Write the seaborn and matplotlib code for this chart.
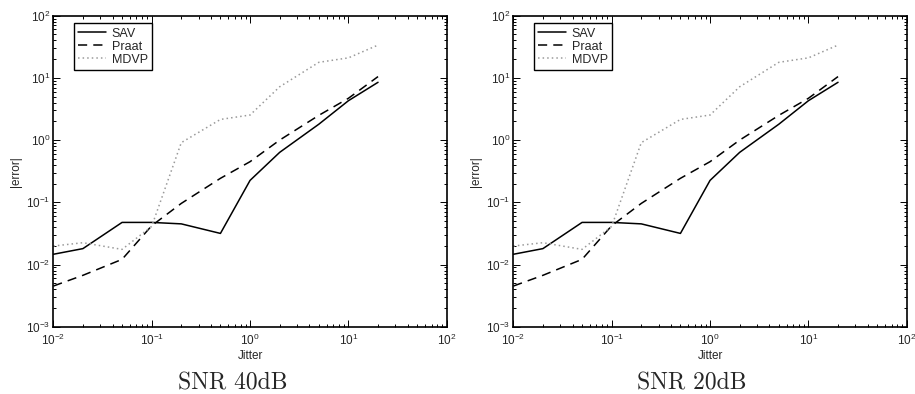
import numpy as np
import pandas as pd
import matplotlib
matplotlib.use("Agg")
import matplotlib.pyplot as plt
import seaborn as sns
from matplotlib.ticker import LogLocator, NullFormatter

jitter = [0.01, 0.02, 0.05, 0.1, 0.2, 0.5, 1, 2, 5, 10, 20]
sav = [0.0146, 0.018, 0.0475, 0.0475, 0.045, 0.0316, 0.225, 0.635, 1.8, 4.3, 8.5]
praat = [0.0045, 0.0067, 0.0121, 0.042, 0.096, 0.243, 0.45, 1.0, 2.5, 4.7, 10.5]
mdvp = [0.0198, 0.0224, 0.0175, 0.041, 0.91, 2.15, 2.53, 7.2, 17.8, 21.0, 33.7]
series_names = ["SAV", "Praat", "MDVP"]
captions = ["SNR 40dB", "SNR 20dB"]

sns.set_style("ticks")
plt.rcParams["font.family"] = ["Liberation Sans", "DejaVu Sans"]
plt.rcParams["mathtext.fontset"] = "custom"
plt.rcParams["mathtext.rm"] = "Liberation Sans"
plt.rcParams["mathtext.it"] = "Liberation Sans"
plt.rcParams["mathtext.default"] = "regular"

fig = plt.figure(figsize=(9.15, 3.94), dpi=100)
W, H = 915, 394
lefts = [53.3, 513.3]
caption_x = [233, 692]
styles = [dict(color="black", linestyle="-"),
          dict(color="black", linestyle=(0, (6, 4))),
          dict(color="#9a9a9a", linestyle=(0, (1, 2)))]
values = [sav, praat, mdvp]

for i in range(2):
    ax = fig.add_axes([lefts[i] / W, (H - 326.7) / H, 393.5 / W, 311 / H])
    for name, vals, st in zip(series_names, values, styles):
        sns.lineplot(x=jitter, y=vals, ax=ax, label=name, linewidth=1.1, **st)
    ax.set_xscale("log")
    ax.set_yscale("log")
    ax.set_xlim(1e-2, 1e2)
    ax.set_ylim(1e-3, 1e2)
    ax.xaxis.set_major_locator(LogLocator(base=10, numticks=10))
    ax.yaxis.set_major_locator(LogLocator(base=10, numticks=10))
    ax.xaxis.set_minor_locator(LogLocator(base=10, subs=np.arange(2, 10), numticks=20))
    ax.yaxis.set_minor_locator(LogLocator(base=10, subs=np.arange(2, 10), numticks=20))
    ax.xaxis.set_minor_formatter(NullFormatter())
    ax.yaxis.set_minor_formatter(NullFormatter())
    ax.tick_params(which="both", direction="in", top=True, right=True,
                   labelsize=8.5, color="black", width=0.7)
    ax.tick_params(which="major", length=5)
    ax.tick_params(which="minor", length=2.5)
    ax.tick_params(axis="x", which="major", pad=4.5)
    ax.tick_params(axis="y", which="major", pad=2)
    for sp in ax.spines.values():
        sp.set_linewidth(1.2)
        sp.set_color("black")
    ax.set_xlabel("Jitter", fontsize=8.5, labelpad=1)
    ax.set_ylabel("|error|", fontsize=8.5, labelpad=3)
    leg = ax.legend(loc="upper left", bbox_to_anchor=(0.052, 0.975), fontsize=9,
                    handlelength=2.2, handletextpad=0.5, borderpad=0.35,
                    labelspacing=0.08, fancybox=False, framealpha=1,
                    borderaxespad=0)
    leg.get_frame().set_edgecolor("black")
    leg.get_frame().set_linewidth(1.0)
    fig.text(caption_x[i] / W, 1 - 383 / H, captions[i], family="cmr10",
             fontsize=17, ha="center", va="center")

fig.savefig("out.png", dpi=100)
